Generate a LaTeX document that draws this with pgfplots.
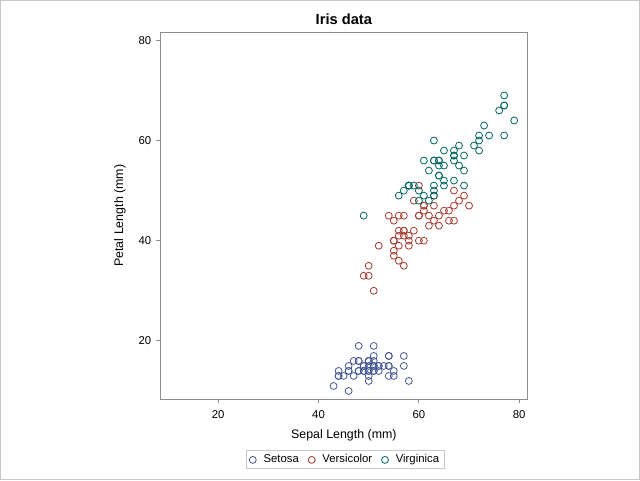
\documentclass[border=0pt]{standalone}
\usepackage{pgfplots}
\pgfplotsset{compat=1.18}
\usepackage{pgfplotstable}
\usepackage{fontspec}
\setmainfont{Liberation Sans}
\definecolor{gdA}{HTML}{445694}
\definecolor{gdB}{HTML}{A23A2E}
\definecolor{gdC}{HTML}{01665E}
\definecolor{axgray}{HTML}{8C8C8C}

% sepal length, petal length (mm)
\pgfplotstableread{
x y
51 14
49 14
47 13
46 15
50 14
54 17
46 14
50 15
44 14
49 15
54 15
48 16
48 14
43 11
58 12
57 15
54 13
51 14
57 17
51 15
54 17
51 15
46 10
51 17
48 19
50 16
50 16
52 15
52 14
47 16
48 16
54 15
52 15
55 14
49 15
50 12
55 13
49 14
44 13
51 15
50 13
45 13
44 13
50 16
51 19
48 14
51 16
46 14
53 15
50 14
}\setosa
\pgfplotstableread{
x y
70 47
64 45
69 49
55 40
65 46
57 45
63 47
49 33
66 46
52 39
50 35
59 42
60 40
61 47
56 36
67 44
56 45
58 41
62 45
56 39
59 48
61 40
63 49
61 47
64 43
66 44
68 48
67 50
60 45
57 35
55 38
55 37
58 39
60 51
54 45
60 45
67 47
63 44
56 41
55 40
55 44
61 46
58 40
50 33
56 42
57 42
57 42
62 43
51 30
57 41
}\versicolor
\pgfplotstableread{
x y
63 60
58 51
71 59
63 56
65 58
76 66
49 45
73 63
67 58
72 61
65 51
64 53
68 55
57 50
58 51
64 53
65 55
77 67
77 69
60 50
69 57
56 49
77 67
63 49
67 57
72 60
62 48
61 49
64 56
72 58
74 61
79 64
64 56
63 51
61 56
77 61
63 56
64 55
60 48
69 54
67 56
69 51
58 51
68 59
67 57
67 52
63 50
65 52
62 54
59 51
}\virginica

\begin{document}
\begin{tikzpicture}
\useasboundingbox (0,0) rectangle (480pt,360pt);
\draw[black!22, line width=0.75pt] (0.375pt,0.375pt) rectangle (479.625pt,359.625pt);
\begin{axis}[
  at={(120pt,60.75pt)}, anchor=south west,
  scale only axis, width=275.8pt, height=275pt,
  xmin=8.4, xmax=81.7, ymin=8.4, ymax=81.6,
  xtick={20,40,60,80}, ytick={20,40,60,80},
  axis line style={axgray, line width=0.75pt},
  tick style={axgray, line width=0.75pt},
  tick align=outside, major tick length=3pt,
  xtick pos=bottom, ytick pos=left,
  /pgf/number format/assume math mode=true,
  tick label style={font=\fontsize{8.5}{10}\selectfont},
  xticklabel style={yshift=-2pt},
  xlabel={Sepal Length (mm)}, ylabel={Petal Length (mm)},
  label style={font=\fontsize{9.3}{11}\selectfont},
  xlabel style={at={(axis description cs:0.5,-0.098)}, anchor=center},
  ylabel style={at={(axis description cs:-0.109,0.5)}, anchor=center},
  title={Iris data},
  every axis title/.style={font=\bfseries\fontsize{11}{13}\selectfont, at={(axis description cs:0.5,1.036)}, anchor=center},
  legend columns=3,
  legend style={at={(axis description cs:0.5045,-0.166)}, anchor=center,
    draw=black!22, line width=0.75pt, font=\fontsize{8.5}{10}\selectfont,
    inner xsep=2pt, inner ysep=1pt,
    /tikz/every odd column/.append style={column sep=3.5pt},
    /tikz/every even column/.append style={column sep=5pt}},
  every axis plot/.append style={only marks, mark=o, mark size=2.6pt, line width=0.6pt},
]
\addplot[gdA] table {\setosa};
\addlegendentry{Setosa}
\addplot[gdB] table {\versicolor};
\addlegendentry{Versicolor}
\addplot[gdC] table {\virginica};
\addlegendentry{Virginica}
\end{axis}
\end{tikzpicture}
\end{document}
